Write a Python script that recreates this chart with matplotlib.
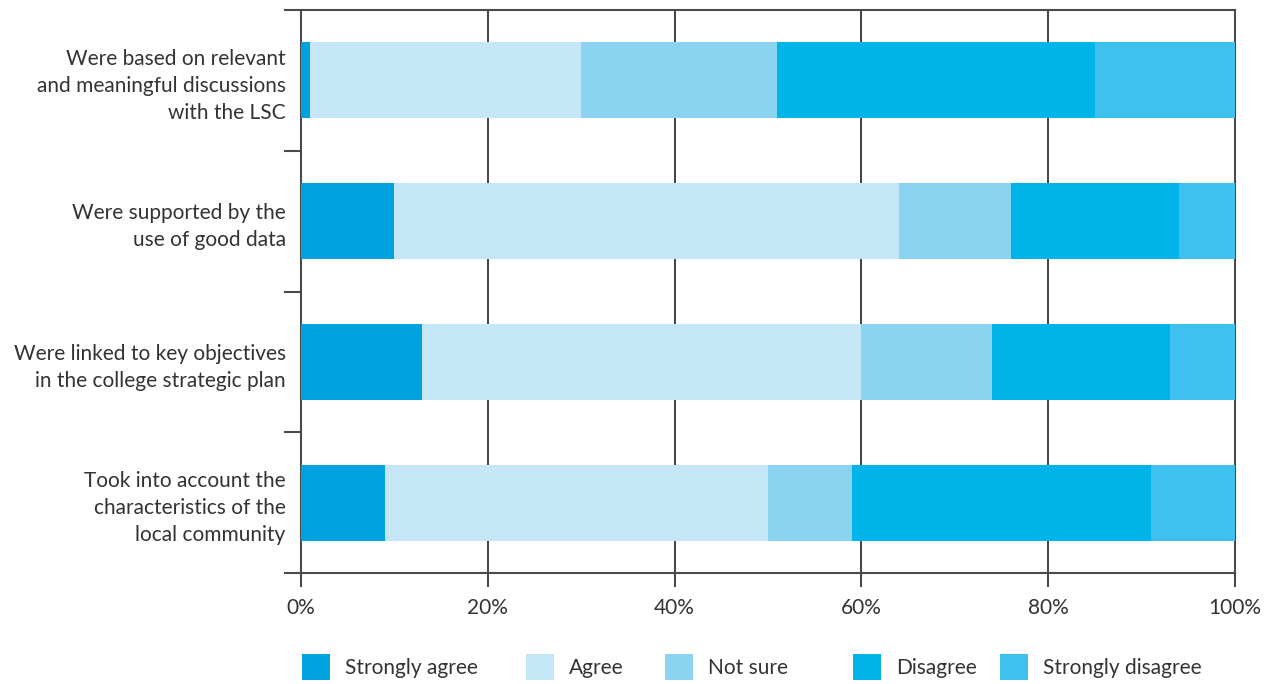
import matplotlib
matplotlib.use("Agg")
import matplotlib.pyplot as plt
from matplotlib.patches import Patch

categories = [
    "Were based on relevant\nand meaningful discussions\nwith the LSC",
    "Were supported by the\nuse of good data",
    "Were linked to key objectives\nin the college strategic plan",
    "Took into account the\ncharacteristics of the\nlocal community",
]
responses = ["Strongly agree", "Agree", "Not sure", "Disagree", "Strongly disagree"]
strongly_agree = [1, 10, 13, 9]
agree = [29, 54, 47, 41]
not_sure = [21, 12, 14, 9]
disagree = [34, 18, 19, 32]
strongly_disagree = [15, 6, 7, 9]
x_ticks = [0, 20, 40, 60, 80, 100]
x_tick_labels = ["0%", "20%", "40%", "60%", "80%", "100%"]

colors = ["#00A3E0", "#C4E6F6", "#8AD4F2", "#00B4E9", "#3EC1EE"]
series = [strongly_agree, agree, not_sure, disagree, strongly_disagree]

plt.rcParams["font.family"] = ["Lato", "DejaVu Sans"]
text_color = "#333333"
line_color = "#4a4a4a"

fig = plt.figure(figsize=(12.76, 6.84), dpi=100)
ax = fig.add_axes([301 / 1276, 1 - 573 / 684, 934 / 1276, 563 / 684])

ypos = [i + 0.5 for i in range(len(categories))]
left = [0] * len(categories)
for vals, col, name in zip(series, colors, responses):
    ax.barh(ypos, vals, left=left, height=0.54, color=col, label=name, zorder=3)
    left = [a + b for a, b in zip(left, vals)]

ax.set_xlim(0, 100)
ax.set_ylim(len(categories), 0)
ax.set_xticks(x_ticks)
ax.set_xticklabels(x_tick_labels, fontsize=15, color=text_color)
ax.set_yticks(range(len(categories) + 1))
ax.set_yticklabels([])
ax.set_yticks(ypos, minor=True)
ax.set_yticklabels(categories, minor=True, fontsize=15, color=text_color,
                   linespacing=1.45)
ax.tick_params(axis="y", which="minor", length=0, pad=11)
ax.tick_params(axis="y", which="major", length=12, width=1.5, color=line_color)
ax.tick_params(axis="x", length=10, width=1.5, color=line_color, pad=8)
ax.grid(axis="x", color="#222222", linewidth=1.2, zorder=1)
for s in ax.spines.values():
    s.set_color(line_color)
    s.set_linewidth(1.5)

# one legend entry per response, spaced along the bottom of the figure
legend_x = [302, 526, 665, 853, 1000]
for lx, col, name in zip(legend_x, colors, responses):
    leg = fig.legend(handles=[Patch(facecolor=col, label=name)], loc="center left",
                     bbox_to_anchor=(lx / 1276, 1 - 667 / 684), frameon=False,
                     fontsize=15, handlelength=1.35, handleheight=1.55,
                     handletextpad=0.7, labelcolor=text_color,
                     borderpad=0, borderaxespad=0)

fig.savefig("out.png", dpi=100)
